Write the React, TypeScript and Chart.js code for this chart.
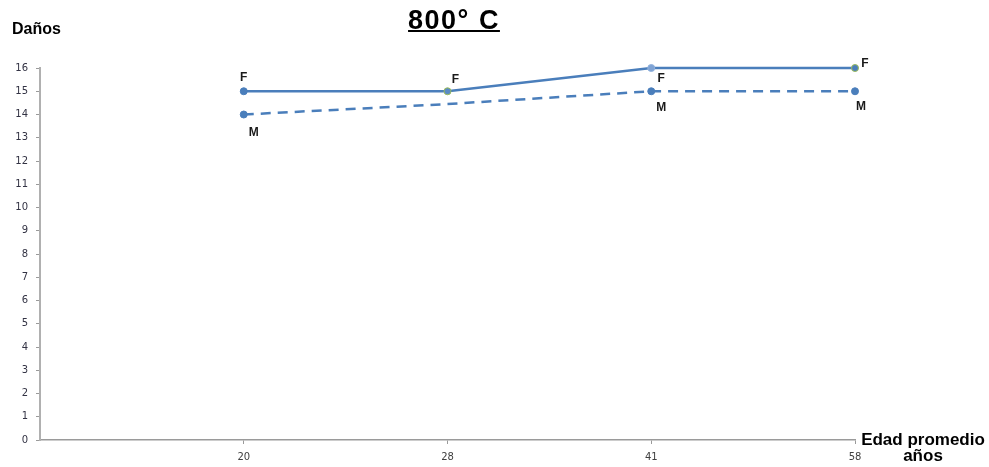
import React, { useEffect, useRef } from "react";
import { Chart, registerables } from "chart.js";

Chart.register(...registerables);

const categories = ["20", "28", "41", "58"];
const femaleValues = [15, 15, 16, 16];
const maleValues = [14, 14.45, 15, 15];
const maleMarkerShown = [true, false, true, true];
const yTicks = [0, 1, 2, 3, 4, 5, 6, 7, 8, 9, 10, 11, 12, 13, 14, 15, 16];
const titleText = "800° C";
const yTitle = "Daños";
const xTitle = ["Edad promedio", "años"];
const femaleLabel = "F";
const maleLabel = "M";

const BLUE = "#4a7ebb";
const GREEN_EDGE = "#9bbb59";

// label offsets (px) relative to each point
const fOffsets = [[0, -14], [8, -12], [10, 11], [10, -4]];
const mOffsets = [[10, 18], [0, 0], [10, 16], [6, 15]];

export default function App() {
  const ref = useRef<HTMLCanvasElement | null>(null);

  useEffect(() => {
    const prevMargin = document.body.style.margin;
    document.body.style.margin = "0";
    const labelPlugin = {
      id: "pointLabels",
      afterDatasetsDraw(chart: any) {
        const ctx = chart.ctx;
        ctx.save();
        ctx.font = "bold 12px 'Liberation Sans', Arial, sans-serif";
        ctx.fillStyle = "#1a1a1a";
        ctx.textAlign = "center";
        ctx.textBaseline = "middle";
        const fMeta = chart.getDatasetMeta(0);
        fMeta.data.forEach((pt: any, i: number) => {
          ctx.fillText(femaleLabel, pt.x + fOffsets[i][0], pt.y + fOffsets[i][1]);
        });
        const mMeta = chart.getDatasetMeta(1);
        mMeta.data.forEach((pt: any, i: number) => {
          if (!maleMarkerShown[i]) return;
          ctx.fillText(maleLabel, pt.x + mOffsets[i][0], pt.y + mOffsets[i][1]);
        });
        ctx.restore();
      },
    };

    const chart = new Chart(ref.current as HTMLCanvasElement, {
      type: "line",
      data: {
        datasets: [
          {
            label: femaleLabel,
            data: femaleValues.map((v, i) => ({ x: i + 1, y: v })),
            borderColor: BLUE,
            borderWidth: 2.5,
            pointRadius: 3.5,
            pointBackgroundColor: [BLUE, "#5b8bc4", "#7fa3d4", BLUE],
            pointBorderColor: [BLUE, GREEN_EDGE, "#8fb0dc", GREEN_EDGE],
            pointBorderWidth: 1,
            tension: 0,
            clip: false,
          },
          {
            label: maleLabel,
            data: maleValues.map((v, i) => ({ x: i + 1, y: v })),
            borderColor: BLUE,
            borderWidth: 2.5,
            borderDash: [10, 7],
            pointRadius: maleMarkerShown.map((s) => (s ? 3.5 : 0)),
            pointBorderWidth: 1,
            pointBackgroundColor: BLUE,
            pointBorderColor: BLUE,
            tension: 0,
            clip: false,
          },
        ],
      },
      options: {
        animation: false,
        responsive: false,
        maintainAspectRatio: false,
        layout: { padding: { left: 0, right: 134, top: 68, bottom: 0 } },
        plugins: { legend: { display: false }, tooltip: { enabled: false } },
        scales: {
          x: {
            type: "linear",
            min: 0,
            max: categories.length,
            afterBuildTicks: (scale: any) => {
              scale.ticks = categories.map((_, i) => ({ value: i + 1 }));
            },
            afterFit: (scale: any) => {
              scale.height = 27;
            },
            ticks: {
              autoSkip: false,
              maxRotation: 0,
              padding: 7,
              color: "#404040",
              font: { family: "'DejaVu Sans', Verdana, sans-serif", size: 10 },
              callback: (v: any) => categories[Number(v) - 1] ?? "",
            },
            grid: { drawOnChartArea: false, drawTicks: true, tickLength: 4, color: "#9a9a9a" },
            border: { color: "#9a9a9a", width: 1.5 },
          },
          y: {
            min: 0,
            max: 16,
            afterBuildTicks: (scale: any) => {
              scale.ticks = yTicks.map((v) => ({ value: v }));
            },
            afterFit: (scale: any) => {
              scale.width = 40;
            },
            ticks: {
              padding: 8,
              color: "#333344",
              font: { family: "'DejaVu Sans', Verdana, sans-serif", size: 10 },
            },
            grid: { drawOnChartArea: false, drawTicks: true, tickLength: 4, color: "#9a9a9a" },
            border: { color: "#b0b0b0", width: 2 },
          },
        },
      },
      plugins: [labelPlugin],
    } as any);
    return () => {
      chart.destroy();
      document.body.style.margin = prevMargin;
    };
  }, []);

  return (
    <div style={{ position: "relative", width: 989, height: 467, background: "#fff", fontFamily: "'Liberation Sans', Arial, sans-serif" }}>
      <canvas ref={ref} width={989} height={467} style={{ position: "absolute", left: 0, top: 0 }} />
      <div style={{ position: "absolute", left: 0, width: 908, top: 5, textAlign: "center", fontWeight: "bold", fontSize: 27, letterSpacing: 1.5, textDecoration: "underline", textDecorationThickness: 2, color: "#000" }}>
        {titleText}
      </div>
      <div style={{ position: "absolute", left: 12, top: 20, fontWeight: "bold", fontSize: 16, color: "#000" }}>
        {yTitle}
      </div>
      <div style={{ position: "absolute", left: 857, width: 132, top: 432, textAlign: "center", fontWeight: "bold", fontSize: 17, lineHeight: "16px", color: "#000" }}>
        <div>{xTitle[0]}</div>
        <div>{xTitle[1]}</div>
      </div>
    </div>
  );
}
